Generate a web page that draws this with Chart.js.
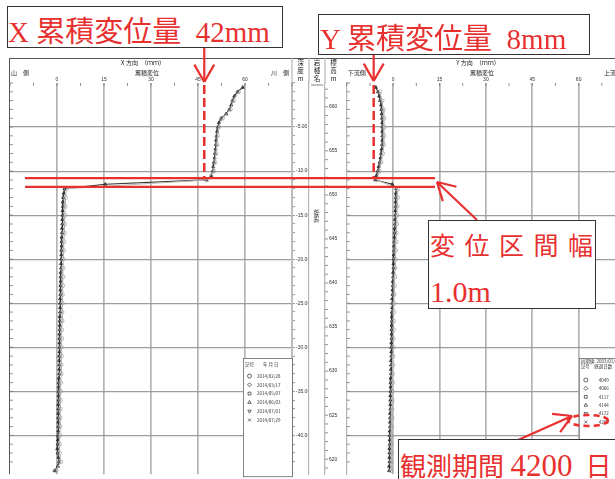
<!DOCTYPE html>
<html>
<head>
<meta charset="utf-8">
<script src="https://cdn.jsdelivr.net/npm/chart.js@4.4.1/dist/chart.umd.min.js"></script>
<style>
html,body{margin:0;overflow:hidden}
body{width:615px;height:479px;position:relative;background:#fff}
.wrap{position:absolute;top:0}
#ov{position:absolute;left:0;top:0}
.note{position:absolute;background:#fff;border:1.5px solid #333;color:#e8302f;font-family:"Liberation Serif","Noto Sans CJK JP",serif;white-space:pre;box-sizing:border-box;overflow:hidden}
.note span{position:absolute;line-height:1}
</style>
</head>
<body>
<div class="wrap" style="left:0"><canvas id="cx" width="342" height="479"></canvas></div>
<div class="wrap" style="left:342px"><canvas id="cy" width="290" height="479"></canvas></div>
<canvas id="ov" width="615" height="479"></canvas>
<div class="note" style="left:7px;top:6px;width:276px;height:42px"><span style="left:0;top:11px;font-size:29px">X 累積変位量  42mm</span></div>
<div class="note" style="left:318px;top:14px;width:272px;height:41px"><span style="left:1px;top:10px;font-size:29px">Y 累積変位量  8mm</span></div>
<div class="note" style="left:428px;top:220px;width:168px;height:89px"><span style="left:1px;top:13px;font-size:25px;letter-spacing:9.5px">変位区間幅</span><span style="left:1px;top:56px;font-size:30px">1.0m</span></div>
<div class="note" style="left:398px;top:439px;width:240px;height:60px"><span style="left:1px;top:10px;font-size:26px">観測期間 <span style="position:static;font-size:31px">4200</span>  日</span></div>
<script>
// depth below top of casing (m), 0.5 m pitch for the latest reading
const depths = [-0.5,-1,-1.5,-2,-2.5,-3,-3.5,-4,-4.5,-5,-5.5,-6,-6.5,-7,-7.5,-8,-8.5,-9,-9.5,-10,
  -10.5,-11,-11.5,-12,-12.5,-13,-13.5,-14,-14.5,-15,-15.5,-16,-16.5,-17,-17.5,-18,-18.5,-19,-19.5,-20,
  -20.5,-21,-21.5,-22,-22.5,-23,-23.5,-24,-24.5,-25,-25.5,-26,-26.5,-27,-27.5,-28,-28.5,-29,-29.5,-30,
  -30.5,-31,-31.5,-32,-32.5,-33,-33.5,-34,-34.5,-35,-35.5,-36,-36.5,-37,-37.5,-38,-38.5,-39,-39.5,-40,
  -40.5,-41,-41.5,-42,-42.5,-43,-43.5,-44];
// 1 m pitch for the first reading
const depthsCoarse = [-1,-2,-3,-4,-5,-6,-7,-8,-9,-10,-11,-12,-13,-14,-15,-16,-17,-18,-19,-20,
  -21,-22,-23,-24,-25,-26,-27,-28,-29,-30,-31,-32,-33,-34,-35,-36,-37,-38,-39,-40,-41,-42,-43,-44];

// X direction cumulative displacement (mm)
const xLatest = [59.3,57.6,56.6,56.0,55.6,55.0,54.0,52.4,51.7,51.3,
  51.1,50.9,50.8,50.7,50.6,50.4,50.3,50.1,49.9,49.7,
  49.2,47.6,15.4,2.4,2.2,2.0,1.9,1.9,1.8,1.8,
  1.7,1.7,1.6,1.6,1.5,1.5,1.5,1.4,1.4,1.3,
  1.3,1.3,1.2,1.2,1.2,1.1,1.1,1.1,1.0,1.0,
  1.0,1.0,0.9,0.9,0.9,0.9,0.8,0.8,0.8,0.8,
  0.8,0.7,0.7,0.7,0.7,0.7,0.6,0.6,0.6,0.5,
  0.5,0.5,0.4,0.4,0.4,0.4,0.4,0.4,0.4,0.3,
  0.3,0.2,0.1,0.2,0.5,0.7,0.3,-0.8];
const xFirst = [57.9,56.3,55.3,52.8,51.6,51.2,51.0,50.7,50.4,50.0,
  47.9,3.0,2.7,2.6,2.5,2.4,2.3,2.2,2.1,2.0,
  1.9,1.9,1.8,1.7,1.7,1.6,1.6,1.5,1.5,1.4,
  1.4,1.3,1.3,1.2,1.1,1.1,1.0,1.0,1.0,0.9,
  0.8,0.8,1.2,-0.4];

// Y direction cumulative displacement (mm)
const yLatest = [-5.6,-4.9,-4.5,-4.2,-3.9,-3.8,-3.7,-3.6,-3.5,-3.5,
  -3.5,-3.5,-3.5,-3.6,-3.7,-3.9,-4.1,-4.4,-4.7,-5.0,
  -5.4,-5.8,-0.3,1.0,0.9,0.9,0.8,0.8,0.7,0.7,
  0.6,0.6,0.5,0.5,0.4,0.4,0.3,0.3,0.2,0.2,
  0.1,0.1,0.0,0.0,-0.1,-0.1,-0.2,-0.2,-0.3,-0.3,
  -0.3,-0.4,-0.4,-0.4,-0.5,-0.5,-0.5,-0.5,-0.6,-0.6,
  -0.6,-0.6,-0.7,-0.7,-0.7,-0.7,-0.8,-0.8,-0.8,-0.8,
  -0.9,-0.9,-0.9,-0.9,-1.0,-1.0,-1.0,-1.0,-1.1,-1.1,
  -1.1,-1.1,-1.2,-1.2,-1.2,-1.2,-1.3,-1.3];
const yFirst = [-4.3,-3.6,-3.2,-3.0,-3.0,-3.0,-3.1,-3.4,-3.9,-4.5,
  -5.3,1.5,1.4,1.3,1.2,1.1,1.0,0.9,0.8,0.7,
  0.6,0.5,0.4,0.3,0.2,0.2,0.1,0.1,0.0,0.0,
  -0.1,-0.1,-0.2,-0.2,-0.3,-0.3,-0.4,-0.4,-0.5,-0.5,
  -0.6,-0.6,-0.7,-0.7];

const legendDates = ['2014/02/28','2014/03/17','2014/05/07','2014/06/03','2014/07/01','2014/07/29'];
const legendDays = ['4049','4066','4117','4144','4172','4200'];
const legendStyles = ['circle','rectRot','rect','triangle','triangle','crossRot'];
const legendRotation = [0,0,0,0,180,0];
const initialDate = '2003/01/28';

const topElevation = 662.7;   // ground level elevation (m)
const depthRange = 44.4;
const shearTop = -10.8, shearBottom = -11.8;   // displaced interval
const markX = 47, markY = -6.3;

const RED = '#e8302f';
const GRID = '#b4b4b4';
const HGRID = '#9c9c9c';
Chart.defaults.font.family = '"Liberation Sans","Noto Sans CJK JP",sans-serif';
Chart.defaults.color = '#333';

const pts = (xs, ds) => xs.map((v, i) => ({x: v, y: ds[i]}));
const isWhole = v => Math.abs(v - Math.round(v)) < 1e-6;
const onFive = v => isWhole(v) && Math.round(v) % 5 === 0;

function seg(ctx, x1, y1, x2, y2) {
  ctx.beginPath(); ctx.moveTo(x1, y1); ctx.lineTo(x2, y2); ctx.stroke();
}

function panelPlugin(info) {
  return {
    id: 'panel' + info.key,
    afterDraw(chart) {
      const {ctx, chartArea: a, scales} = chart;
      const sx = scales.x, sy = scales.y;
      const head = a.top - 25;
      ctx.save();
      ctx.strokeStyle = '#555'; ctx.lineWidth = 1;
      seg(ctx, info.frame ? a.left - 1 : 0, head + 0.5, chart.width, head + 0.5);
      if (info.frame) seg(ctx, a.left - 0.5, head, a.left - 0.5, a.bottom);
      // little inner ticks along the top and left edges
      ctx.strokeStyle = '#777'; ctx.lineWidth = 0.8;
      sx.ticks.forEach(t => {
        const p = sx.getPixelForValue(t.value);
        seg(ctx, p, a.top, p, a.top + 3);
      });
      sy.ticks.forEach(t => {
        if (!isWhole(t.value)) return;
        const p = sy.getPixelForValue(t.value);
        seg(ctx, a.left, p, a.left + 3, p);
      });
      // header texts
      ctx.fillStyle = '#222';
      ctx.textBaseline = 'middle';
      ctx.font = '6px "Noto Sans CJK JP"';
      const cx = (a.left + a.right) / 2;
      ctx.textAlign = 'center';
      ctx.fillText(info.title, cx - 8, a.top - 20);
      ctx.fillText('累積変位', cx - 4, a.top - 10);
      ctx.textAlign = 'left';
      ctx.fillText(info.leftSide, a.left + 1, a.top - 10);
      ctx.textAlign = 'right';
      ctx.fillText(info.rightSide, a.right - 3, a.top - 10);

      if (info.columns) {
        const cols = [[scales.y, ['深', '度', 'm']], [scales.rock, ['岩', '種', '名']], [scales.elev, ['標', '高', 'm']]];
        ctx.font = '6.5px "Noto Sans CJK JP"';
        ctx.textAlign = 'center';
        cols.forEach(([s, chars]) => {
          ctx.strokeStyle = '#b5b5b5'; ctx.lineWidth = 1.2;
          seg(ctx, s.left, head, s.left, a.top);
          chars.forEach((c, i) => ctx.fillText(c, (s.left + s.right) / 2, head + 5 + i * 8));
        });
        // elevation ticks every metre
        const el = scales.elev;
        ctx.strokeStyle = '#777'; ctx.lineWidth = 0.8;
        el.ticks.forEach(t => {
          if (!isWhole(t.value)) return;
          const p = el.getPixelForValue(t.value);
          seg(ctx, el.left, p, el.left + 3, p);
        });
        const r = scales.rock;
        ctx.strokeStyle = '#666';
        seg(ctx, r.left + 2, a.top + 2, r.right - 2, a.top + 2);
        ctx.save();
        ctx.translate((r.left + r.right) / 2, sy.getPixelForValue(-15.1));
        ctx.rotate(Math.PI / 2);
        ctx.font = '4.5px "Noto Sans CJK JP"';
        ctx.fillText('粘板岩', 0, 0);
        ctx.restore();
      }

      // legend box
      const lg = info.legend;
      const bx = info.legendLeft(a), by = a.top + 275;
      ctx.fillStyle = '#fff'; ctx.strokeStyle = '#666'; ctx.lineWidth = 0.8;
      ctx.fillRect(bx, by, a.right - bx, a.bottom - by + 2);
      ctx.strokeRect(bx + 0.5, by + 0.5, a.right - bx, a.bottom - by + 2);
      ctx.fillStyle = '#333';
      ctx.textAlign = 'left';
      ctx.font = '4.5px "Noto Sans CJK JP"';
      lg.header.forEach((h, i) => ctx.fillText(h, bx + 2, by + lg.headerY + i * 5));
      lg.labels.forEach((t, i) => {
        const yy = by + lg.rowY + i * lg.rowGap;
        ctx.strokeStyle = '#444'; ctx.fillStyle = '#fff';
        Chart.helpers.drawPoint(ctx, {pointStyle: legendStyles[i], rotation: legendRotation[i], radius: 2, borderWidth: 0.6}, bx + lg.symX, yy);
        ctx.fillStyle = '#333';
        ctx.fillText(t, bx + lg.textX, yy);
      });
      ctx.restore();
    }
  };
}

function depthGrid(ctx) {
  return ctx.tick && onFive(ctx.tick.value) && ctx.tick.value < 0 && ctx.tick.value > -depthRange ? HGRID : 'rgba(0,0,0,0)';
}

function xScale() {
  return {
    type: 'linear', position: 'top', min: -15, max: 75,
    ticks: {stepSize: 7.5, autoSkip: false, maxRotation: 0, padding: 0, font: {size: 5},
      callback: v => (Math.abs(v % 15) < 1e-6 && v > -15 && v < 75) ? String(v) : ''},
    grid: {drawTicks: false, lineWidth: 1.7,
      color: c => c.tick && Math.abs(c.tick.value % 15) < 1e-6 && c.tick.value > -15 && c.tick.value < 75 ? GRID : 'rgba(0,0,0,0)'},
    border: {display: false},
    afterFit: s => { s.height = 25; }
  };
}

function datasets(first, latest, dFirst, dLatest) {
  return [
    {label: legendDates[0], data: pts(first, dFirst), showLine: true, borderColor: '#b8b8b8', borderWidth: 1,
      pointStyle: 'circle', pointRadius: 2, pointBorderColor: '#9c9c9c', pointBackgroundColor: 'rgba(255,255,255,0)', pointBorderWidth: 0.7},
    {label: legendDates[5], data: pts(latest, dLatest), showLine: true, borderColor: '#333', borderWidth: 1.1,
      pointStyle: 'triangle', pointRadius: 1.8, pointBorderColor: '#222', pointBackgroundColor: '#555', pointBorderWidth: 0.8}
  ];
}

const common = {
  responsive: false, animation: false, events: [],
  plugins: {legend: {display: false}, tooltip: {enabled: false}}
};

const chartX = new Chart(document.getElementById('cx'), {
  type: 'scatter',
  data: {datasets: datasets(xFirst, xLatest, depthsCoarse, depths)},
  options: Object.assign({}, common, {
    layout: {padding: {left: 10, top: 58, right: 0, bottom: 0}},
    scales: {
      x: xScale(),
      y: {type: 'linear', position: 'right', min: -depthRange, max: 0,
        ticks: {stepSize: 1, autoSkip: false, padding: 1, font: {size: 5},
          callback: v => (onFive(v) && v < 0) ? v.toFixed(2) : ''},
        grid: {lineWidth: 1.2, color: depthGrid, tickLength: 3, tickWidth: 0.8,
          tickColor: c => c.tick && isWhole(c.tick.value) ? '#777' : 'rgba(0,0,0,0)'},
        border: {color: '#bdbdbd', width: 2},
        afterFit: s => { s.width = 17; }},
      rock: {type: 'linear', position: 'right', min: -depthRange, max: 0,
        ticks: {display: false}, grid: {display: false, drawTicks: false},
        border: {display: true, color: '#b5b5b5', width: 1.2},
        afterFit: s => { s.width = 16; }},
      elev: {type: 'linear', position: 'right', min: topElevation - depthRange, max: topElevation,
        ticks: {stepSize: 1, autoSkip: false, padding: 1, font: {size: 5},
          callback: v => onFive(v) ? String(Math.round(v)) : ''},
        grid: {display: false, tickLength: 3},
        border: {display: true, color: '#b5b5b5', width: 1.2},
        afterFit: s => { s.width = 17; }}
    }
  }),
  plugins: [panelPlugin({key: 'X', frame: true, columns: true, title: 'X 方向　（ｍｍ）', leftSide: '山　側', rightSide: '川　側',
    legendLeft: a => a.right - 49,
    legend: {header: ['記号　　年 月 日'], labels: legendDates, headerY: 6, rowY: 18, rowGap: 8.8, symX: 6.5, textX: 14}})]
});

const chartY = new Chart(document.getElementById('cy'), {
  type: 'scatter',
  data: {datasets: datasets(yFirst, yLatest, depthsCoarse, depths)},
  options: Object.assign({}, common, {
    layout: {padding: {left: 1, top: 58, right: 7, bottom: 0}},
    scales: {
      x: xScale(),
      y: {type: 'linear', position: 'left', min: -depthRange, max: 0,
        ticks: {display: false, stepSize: 1, autoSkip: false},
        grid: {lineWidth: 1.2, color: depthGrid, drawTicks: false},
        border: {color: '#b5b5b5', width: 1.2},
        afterFit: s => { s.width = 0; }}
    }
  }),
  plugins: [panelPlugin({key: 'Y', frame: false, columns: false, title: 'Y 方向　（ｍｍ）', leftSide: '下流側', rightSide: '上流側',
    legendLeft: a => a.left + 232,
    legend: {header: ['初期値: ' + initialDate, '記号　経過日数（日）'], labels: legendDays, headerY: 3.5, rowY: 22, rowGap: 8.4, symX: 7, textX: 20}})]
});

// red annotations, positioned from the chart scales where they refer to data
function arrow(g, x1, y1, x2, y2) {
  g.setLineDash([]);
  seg(g, x1, y1, x2, y2);
  const ang = Math.atan2(y1 - y2, x1 - x2);
  [-0.52, 0.52].forEach(d => seg(g, x2, y2, x2 + 20 * Math.cos(ang + d), y2 + 20 * Math.sin(ang + d)));
}

(function drawNotes() {
  const g = document.getElementById('ov').getContext('2d');
  const ys = chartX.scales.y;
  const offR = 342;
  const yTop = ys.getPixelForValue(shearTop), yBot = ys.getPixelForValue(shearBottom);
  const xd = chartX.scales.x.getPixelForValue(markX);
  const yd = offR + chartY.scales.x.getPixelForValue(markY);
  const top = chartX.chartArea.top;
  g.strokeStyle = RED;
  g.lineWidth = 2.2;
  seg(g, 25, yTop, 435, yTop);
  seg(g, 25, yBot, 435, yBot);
  g.lineWidth = 2.5;
  g.setLineDash([9, 4]);
  seg(g, xd, top + 2, xd, yTop);
  seg(g, yd, top + 2, yd, yTop);
  g.lineWidth = 2.2;
  arrow(g, xd, 48, xd, 82);
  arrow(g, yd, 55, yd, 81);
  arrow(g, 477, 220, 437, 182);
  arrow(g, 518, 440, 572, 416);
  g.lineWidth = 2.5;
  g.setLineDash([6, 4]);
  g.beginPath(); g.ellipse(588, 420.5, 20, 5.5, 0, 0, Math.PI * 2); g.stroke();
})();
</script>
</body>
</html>
